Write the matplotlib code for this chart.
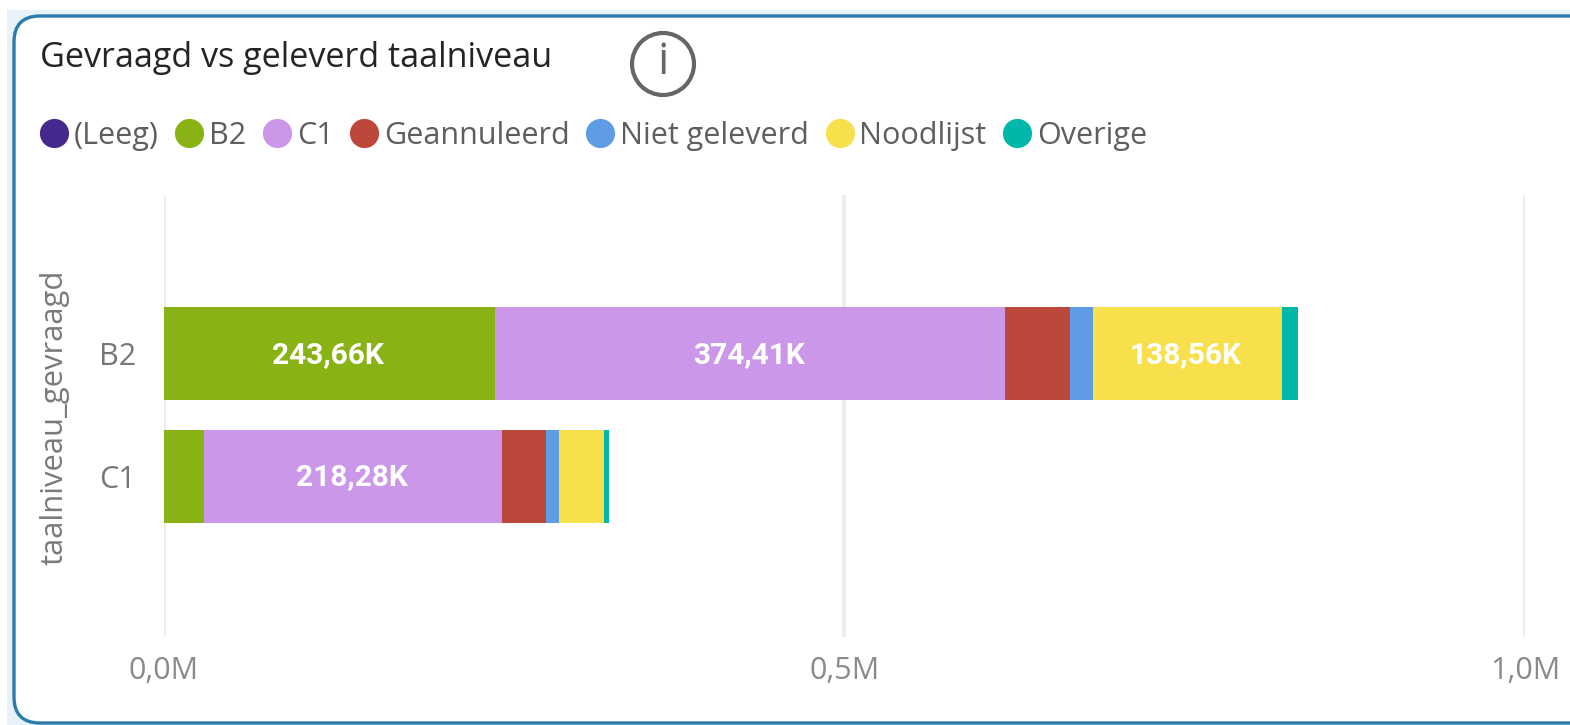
import matplotlib
matplotlib.use("Agg")
import matplotlib.pyplot as plt
import numpy as np
from matplotlib.lines import Line2D
from matplotlib.patches import FancyBboxPatch, Rectangle, Circle

# ---- data (thousands) ----
categories = ["B2", "C1"]
series_names = ["(Leeg)", "B2", "C1", "Geannuleerd", "Niet geleverd", "Noodlijst", "Overige"]
leeg = [0.0, 0.0]
b2 = [243.66, 30.0]
c1 = [374.41, 218.28]
geannuleerd = [48.0, 33.0]
niet_geleverd = [16.6, 9.5]
noodlijst = [138.56, 33.0]
overige = [12.0, 3.5]
label_text = {"B2": ["243,66K", ""], "C1": ["374,41K", "218,28K"], "Noodlijst": ["138,56K", ""]}
tick_values = [0, 500, 1000]
tick_labels = ["0,0M", "0,5M", "1,0M"]
title = "Gevraagd vs geleverd taalniveau"
y_title = "taalniveau_gevraagd"

colors = ["#47288C", "#89B214", "#CB97E8", "#BC473B", "#5E9CE3", "#F7E04B", "#00B8A9"]
all_values = [leeg, b2, c1, geannuleerd, niet_geleverd, noodlijst, overige]

W, H = 1570, 725
plt.rcParams["font.family"] = ["Open Sans", "DejaVu Sans"]
fig = plt.figure(figsize=(W / 100, H / 100), dpi=100, facecolor="white")

# chrome layer in pixel coordinates
bg = fig.add_axes([0, 0, 1, 1], zorder=0)
bg.set_xlim(0, W); bg.set_ylim(H, 0); bg.axis("off")
bg.add_patch(Rectangle((7, 10), W, H, fc="#E6F1F8", ec="none"))
bg.add_patch(FancyBboxPatch((28, 30), W + 60, H - 46, boxstyle="round,pad=14,rounding_size=26",
                            fc="white", ec="#2B7CAB", lw=2.4))
bg.add_patch(Circle((663, 64), 31, fc="none", ec="#666666", lw=3))
bg.text(663, 63, "i", ha="center", va="center", fontsize=32, color="#666666")
bg.text(40, 58, title, ha="left", va="center", fontsize=24.6, color="#252423")

# plot
x0, x1 = 163.5, 1525
top, bot = 195, 637
ax = fig.add_axes([x0 / W, 1 - bot / H, (x1 - x0) / W, (bot - top) / H], zorder=1)
ax.patch.set_alpha(0)
ax.set_xlim(0, 1000)
ax.set_ylim(2.31, -1.294)
y = np.arange(len(categories))
left = np.zeros(len(categories))
handles = []
for name, vals, col in zip(series_names, all_values, colors):
    bars = ax.barh(y, vals, left=left, height=0.755, color=col, zorder=3)
    left += np.array(vals)
    if name in label_text:
        texts = ax.bar_label(bars, labels=label_text[name], label_type="center", color="#FFFFFF",
                             fontsize=21.5, fontweight="bold", family="Roboto", zorder=4)
        for t in texts:
            t.xyann = (-1, -0.8)
    handles.append(Line2D([], [], ls="none", marker="o", ms=21, color=col, mew=0, label=name))

for s in ax.spines.values():
    s.set_visible(False)
ax.set_xticks(tick_values, tick_labels)
ax.set_yticks(y, categories)
ax.tick_params(axis="both", length=0, labelsize=22, labelcolor="#8a8a8a")
ax.tick_params(axis="x", pad=14)
ax.tick_params(axis="y", pad=20, labelcolor="#777777")
ax.grid(axis="x", color="#ECECEC", lw=2.6, zorder=0)
ax.set_axisbelow(True)

fig.text(55 / W, 1 - 417 / H, y_title, rotation=90, ha="center", va="center",
         fontsize=22.3, color="#7a7a7a")

leg = fig.legend(handles=handles, loc="upper left", bbox_to_anchor=(32 / W, 1 - 115 / H),
                 ncol=7, frameon=False, fontsize=22, labelcolor="#605E5C",
                 handlelength=1.05, handletextpad=0.12, columnspacing=0.48,
                 borderpad=0.2, borderaxespad=0)
fig.savefig("out.png", dpi=100)
